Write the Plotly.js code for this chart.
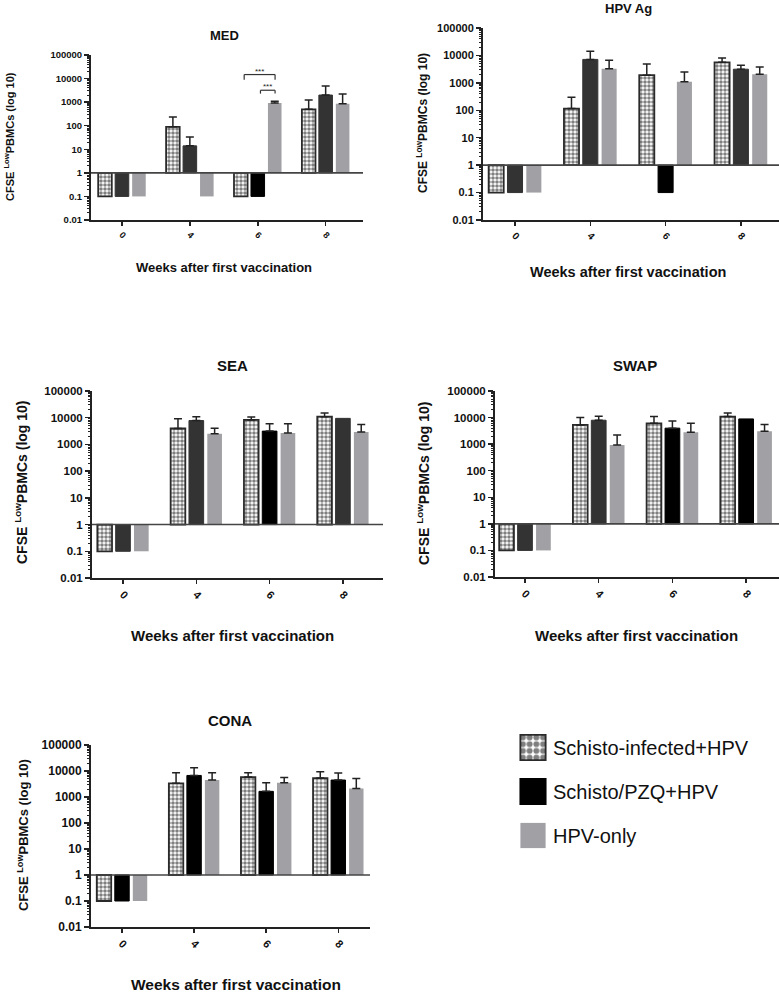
<!DOCTYPE html>
<html><head><meta charset="utf-8">
<script src="https://cdn.plot.ly/plotly-3.0.1.min.js"></script>
<style>html,body{margin:0;padding:0;background:#fff}#chart{width:779px;height:993px}</style>
</head><body><div id="chart"></div>
<script>
// ---------- data ----------
const weeks = ['0', '4', '6', '8'];
const seriesNames = ['Schisto-infected+HPV', 'Schisto/PZQ+HPV', 'HPV-only'];
const panelTitles = ['MED', 'HPV Ag', 'SEA', 'SWAP', 'CONA'];
const yTickVals = [0.01, 0.1, 1, 10, 100, 1000, 10000, 100000];
const yTickText = ['0.01', '0.1', '1', '10', '100', '1000', '10000', '100000'];

// MED
const medInfected    = [0.1, 90, 0.1, 495];
const medInfectedErr = [null, 145, null, 745];
const medPZQ         = [0.1, 14, 0.1, 2000];
const medPZQErr      = [null, 19, null, 2850];
const medHPV         = [0.1, 0.1, 930, 850];
const medHPVErr      = [null, null, 160, 1350];
// HPV Ag
const hpvInfected    = [0.1, 115, 1900, 5600];
const hpvInfectedErr = [null, 185, 3000, 2450];
const hpvPZQ         = [0.1, 7150, 0.1, 3150];
const hpvPZQErr      = [null, 7200, null, 1250];
const hpvHPV         = [0.1, 3300, 1100, 2050];
const hpvHPVErr      = [null, 3350, 1400, 1750];
// SEA
const seaInfected    = [0.1, 3950, 8300, 10900];
const seaInfectedErr = [null, 5100, 2300, 4000];
const seaPZQ         = [0.1, 7850, 3150, 9450];
const seaPZQErr      = [null, 3050, 2750, null];
const seaHPV         = [0.1, 2500, 2700, 2900];
const seaHPVErr      = [null, 1550, 3200, 2700];
// SWAP
const swapInfected    = [0.1, 5300, 6100, 10900];
const swapInfectedErr = [null, 4700, 4800, 4000];
const swapPZQ         = [0.1, 7950, 4000, 8900];
const swapPZQErr      = [null, 3300, 3500, null];
const swapHPV         = [0.1, 920, 2800, 3050];
const swapHPVErr      = [null, 1300, 3300, 2400];
// CONA
const conaInfected    = [0.1, 3350, 5850, 5350];
const conaInfectedErr = [null, 5200, 2700, 4000];
const conaPZQ         = [0.1, 6750, 1650, 4500];
const conaPZQErr      = [null, 6600, 1900, 3800];
const conaHPV         = [0.1, 4500, 3550, 2100];
const conaHPVErr      = [null, 4100, 2100, 3100];

// ---------- styles ----------
const FONT = '"Liberation Sans", Arial, sans-serif';
const DARK = '#333333', BLACK = '#000000', GREY = '#a1a1a5';
const BASE = 1;
const pzqColors = [
  [DARK, DARK, BLACK, DARK],
  [DARK, DARK, BLACK, DARK],
  [DARK, DARK, BLACK, DARK],
  [DARK, DARK, BLACK, BLACK],
  [BLACK, BLACK, BLACK, BLACK]
];
const LEGEND_PANEL = 4;

const panels = [
  {vals: [medInfected, medPZQ, medHPV], errs: [medInfectedErr, medPZQErr, medHPVErr]},
  {vals: [hpvInfected, hpvPZQ, hpvHPV], errs: [hpvInfectedErr, hpvPZQErr, hpvHPVErr]},
  {vals: [seaInfected, seaPZQ, seaHPV], errs: [seaInfectedErr, seaPZQErr, seaHPVErr]},
  {vals: [swapInfected, swapPZQ, swapHPV], errs: [swapInfectedErr, swapPZQErr, swapHPVErr]},
  {vals: [conaInfected, conaPZQ, conaHPV], errs: [conaInfectedErr, conaPZQErr, conaHPVErr]}
];

const W = 779, H = 993;
const px = v => v / W, py = v => 1 - v / H;
// geometry of each panel (pixels)
const geo = [
  {x0: 91,  x1: 363, top: 55,  bot: 220, xr: [-0.456, 3.55],  xt: 9,  yt: 9.5, title: [224, 35, 13],  xtitle: [224, 267, 13],   ytitle: [9, 137, 11]},
  {x0: 483, x1: 779, top: 28,  bot: 220, xr: [-0.425, 3.506], xt: 10, yt: 11,  title: [628, 8, 13],   xtitle: [628, 272, 14.5], ytitle: [422, 123, 12]},
  {x0: 92,  x1: 383, top: 391, bot: 578, xr: [-0.423, 3.547], xt: 11, yt: 11.5, title: [233, 365, 15], xtitle: [233, 635, 15],  ytitle: [21, 482, 14]},
  {x0: 495, x1: 779, top: 391, bot: 577, xr: [-0.407, 3.446], xt: 11, yt: 11.5, title: [635, 365, 15], xtitle: [636, 635, 15],  ytitle: [423, 483, 14]},
  {x0: 91,  x1: 370, top: 745, bot: 927, xr: [-0.43, 3.44],   xt: 11, yt: 12,  title: [230, 720, 15], xtitle: [236, 984, 15.5], ytitle: [23, 835, 13]}
];

const traces = [];
const layout = {
  width: W, height: H, margin: {l: 0, r: 0, t: 0, b: 0},
  paper_bgcolor: '#fff', plot_bgcolor: 'rgba(0,0,0,0)',
  barmode: 'group', bargap: 0.25, bargroupgap: 0.2,
  showlegend: true,
  legend: {x: 513 / W, y: py(728), xanchor: 'left', yanchor: 'top',
           font: {family: FONT, size: 20, color: '#111'}, tracegroupgap: 15,
           bgcolor: 'rgba(0,0,0,0)'},
  annotations: [], shapes: []
};

panels.forEach((p, k) => {
  const g = geo[k];
  const sfx = k === 0 ? '' : String(k + 1);
  const xa = 'x' + sfx, ya = 'y' + sfx;
  p.vals.forEach((vals, s) => {
    const errs = p.errs[s];
    const marker = s === 0 ? {
        color: '#ffffff',
        line: {color: '#2a2a2a', width: 1.8},
        pattern: {shape: '.', size: 4, solidity: 0.62, fgcolor: '#000', bgcolor: '#fff', fillmode: 'overlay'}
      } : s === 1 ? {
        color: pzqColors[k], line: {color: pzqColors[k], width: 1}
      } : {
        color: GREY, line: {color: GREY, width: 0}
      };
    traces.push({
      type: 'bar', name: seriesNames[s], x: weeks,
      y: vals.map(v => v - BASE), base: BASE,
      xaxis: xa, yaxis: ya, marker: marker,
      legendgroup: 'g' + s, showlegend: k === LEGEND_PANEL,
      error_y: {type: 'data', symmetric: false, visible: true,
                array: errs.map(e => e === null ? NaN : e),
                arrayminus: errs.map(e => e === null ? NaN : 0),
                color: '#222', thickness: 1.5, width: 4},
      hoverinfo: 'skip'
    });
  });
  layout['xaxis' + sfx] = {
    domain: [px(g.x0), px(g.x1)], range: g.xr, anchor: ya, type: 'category',
    showline: true, linecolor: '#222', linewidth: 2, ticks: 'outside', ticklen: 4,
    tickwidth: 1.5, tickcolor: '#222', tickangle: 45, showgrid: false, zeroline: false,
    tickfont: {family: FONT, size: g.xt, color: '#111', weight: 700}, fixedrange: true
  };
  layout['yaxis' + sfx] = {
    domain: [py(g.bot), py(g.top)], anchor: xa, type: 'log', range: [-2, 5],
    tickmode: 'array', tickvals: yTickVals, ticktext: yTickText,
    showline: true, linecolor: '#222', linewidth: 2, ticks: 'outside', ticklen: 5,
    tickwidth: 1.5, tickcolor: '#222', showgrid: false, zeroline: false,
    tickfont: {family: FONT, size: g.yt, color: '#111', weight: 700},
    minor: {ticks: 'outside', ticklen: 2.5, tickwidth: 1, tickcolor: '#222', dtick: 'D1', showgrid: false},
    fixedrange: true
  };
  // horizontal reference line at y = 1
  layout.shapes.push({type: 'line', xref: xa + ' domain', yref: ya, x0: 0, x1: 1, y0: 1, y1: 1,
                      line: {color: '#444', width: 1.6}});
  // titles
  layout.annotations.push({text: '<b>' + panelTitles[k] + '</b>', xref: 'paper', yref: 'paper',
    x: px(g.title[0]), y: py(g.title[1]), xanchor: 'center', yanchor: 'middle', showarrow: false,
    font: {family: FONT, size: g.title[2], color: '#111'}});
  layout.annotations.push({text: '<b>Weeks after first vaccination</b>', xref: 'paper', yref: 'paper',
    x: px(g.xtitle[0]), y: py(g.xtitle[1]), xanchor: 'center', yanchor: 'middle', showarrow: false,
    font: {family: FONT, size: g.xtitle[2], color: '#111'}});
  layout.annotations.push({text: '<b>CFSE <sup>Low</sup>PBMCs (log 10)</b>', xref: 'paper', yref: 'paper',
    x: px(g.ytitle[0]), y: py(g.ytitle[1]), xanchor: 'center', yanchor: 'middle', showarrow: false,
    textangle: -90, font: {family: FONT, size: g.ytitle[2], color: '#111'}});
});

// significance brackets in MED (week 6)
const brackets = [
  {x0: 1.80, x1: 2.255, y: 14800, yEnd: 9000},
  {x0: 2.04, x1: 2.255, y: 3200, yEnd: 2300}
];
brackets.forEach(b => {
  const ln = {color: '#333', width: 1.2};
  layout.shapes.push({type: 'line', xref: 'x', yref: 'y', x0: b.x0, x1: b.x1, y0: b.y, y1: b.y, line: ln});
  layout.shapes.push({type: 'line', xref: 'x', yref: 'y', x0: b.x0, x1: b.x0, y0: b.y, y1: b.yEnd, line: ln});
  layout.shapes.push({type: 'line', xref: 'x', yref: 'y', x0: b.x1, x1: b.x1, y0: b.y, y1: b.yEnd, line: ln});
  layout.annotations.push({text: '***', xref: 'x', yref: 'y', x: (b.x0 + b.x1) / 2, y: Math.log10(b.y),
    xanchor: 'center', yanchor: 'bottom', showarrow: false, yshift: -3,
    font: {family: FONT, size: 8, color: '#222'}});
});

Plotly.newPlot('chart', traces, layout, {displayModeBar: false, staticPlot: true}).then(gd => {
  // enlarge legend swatches to match the reference (keep Plotly's own placement transform)
  gd.querySelectorAll('.legend .legendpoints path').forEach(p => {
    const t = p.getAttribute('transform') || '';
    p.setAttribute('transform', t + ' scale(2.1)');
    p.style.strokeWidth = '0.9px';
  });
});
</script>
</body></html>
